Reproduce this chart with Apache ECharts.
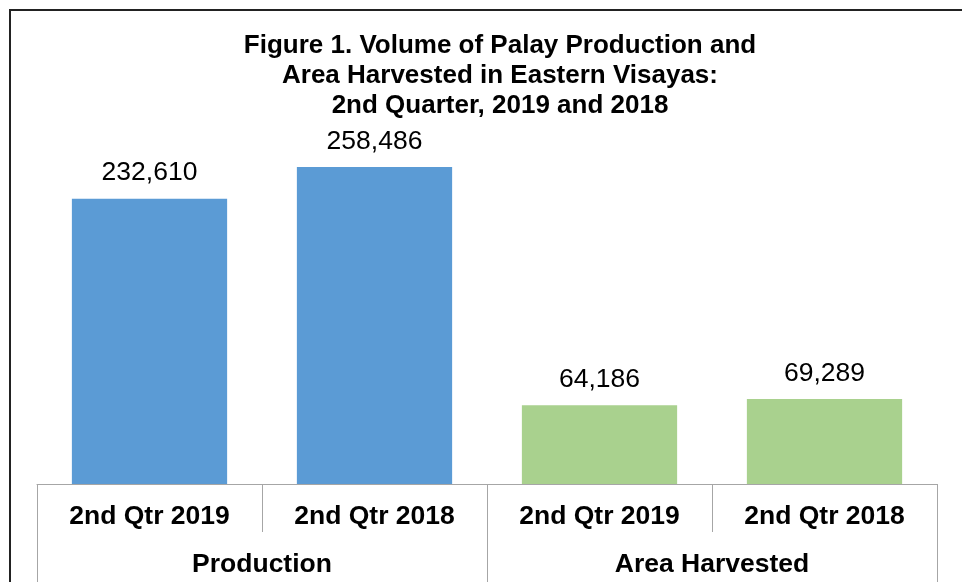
<!DOCTYPE html>
<html>
<head>
<meta charset="utf-8">
<title>Palay Production and Area Harvested</title>
<script src="https://cdn.jsdelivr.net/npm/echarts@6/dist/echarts.min.js"></script>
<style>
  html, body { margin: 0; padding: 0; background: #fff; }
  #chart { width: 962px; height: 582px; }
</style>
</head>
<body>
<div id="chart"></div>
<script>
// chart data
var quarters = ['2nd Qtr 2019', '2nd Qtr 2018', '2nd Qtr 2019', '2nd Qtr 2018']
var groups = ['Production', 'Area Harvested']
var values = [232610, 258486, 64186, 69289]
var groupOf = [0, 0, 1, 1] // which group each bar belongs to

var groupColors = ['#5b9bd5', '#a9d18e']
var axisGray = '#a6a6a6'
var font = '"Liberation Sans", Arial, sans-serif'

var chart = echarts.init(document.getElementById('chart'))

chart.setOption({
  animation: false,
  title: {
    text: 'Figure 1. Volume of Palay Production and\nArea Harvested in Eastern Visayas:\n2nd Quarter, 2019 and 2018',
    left: 500,
    top: 31,
    padding: 0,
    textAlign: 'center',
    textStyle: {
      fontFamily: font,
      fontSize: 26,
      fontWeight: 'bold',
      lineHeight: 30,
      color: '#000'
    }
  },
  grid: {
    left: 37,
    right: 25,
    top: 116,
    bottom: 98
  },
  xAxis: [{
    type: 'category',
    data: quarters,
    position: 'bottom',
    axisLine: { lineStyle: { color: axisGray, width: 1 } },
    axisTick: { show: true, length: 48, interval: 0, lineStyle: { color: axisGray } },
    axisLabel: {
      interval: 0,
      margin: 19,
      fontFamily: font,
      fontSize: 26.5,
      fontWeight: 'bold',
      color: '#000'
    }
  }, {
    type: 'category',
    data: groups,
    position: 'bottom',
    axisLine: { show: false },
    axisTick: { show: true, length: 100, interval: 0, lineStyle: { color: axisGray } },
    axisLabel: {
      interval: 0,
      margin: 67,
      fontFamily: font,
      fontSize: 26.5,
      fontWeight: 'bold',
      color: '#000'
    }
  }],
  yAxis: {
    type: 'value',
    min: 0,
    max: 300000,
    show: false,
    splitLine: { show: false }
  },
  series: [{
    type: 'bar',
    xAxisIndex: 0,
    barWidth: '69%',
    data: values.map(function (v, i) {
      return { value: v, itemStyle: { color: groupColors[groupOf[i]] } }
    }),
    label: {
      show: true,
      position: 'top',
      distance: 12,
      fontFamily: font,
      fontSize: 26.5,
      color: '#000',
      formatter: function (p) {
        return p.value.toLocaleString('en-US')
      }
    }
  }],
  graphic: [{
    // frame of the original figure (left and top edges only)
    type: 'polyline',
    shape: { points: [[10, 582], [10, 10], [962, 10]] },
    style: { stroke: '#222', lineWidth: 2, fill: null },
    silent: true
  }]
})
</script>
</body>
</html>
